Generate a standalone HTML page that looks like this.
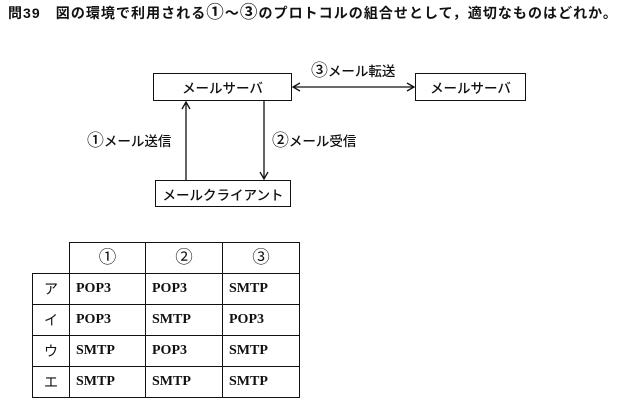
<!DOCTYPE html>
<html><head><meta charset="utf-8"><style>
body{margin:0;width:632px;height:400px;background:#fff;font-family:"Liberation Sans","Noto Sans CJK JP",sans-serif;color:#111;position:relative;overflow:hidden}
.t{position:absolute;white-space:nowrap}
.b{position:absolute;border:1.5px solid #111;box-sizing:border-box;display:flex;align-items:center;justify-content:center;font-size:13.5px;font-weight:500}
.n{font-size:1.25em;line-height:1}
table{position:absolute;left:32px;top:242px;border-collapse:collapse;font-size:14px}
td{border:1.5px solid #111;box-sizing:border-box;height:31px;padding:0 0 0 6px;font-family:"Liberation Serif","Noto Serif CJK SC",serif;font-weight:bold}
td.c{text-align:center;padding:0;font-family:"Liberation Sans","Noto Sans CJK JP",sans-serif;font-weight:normal}
</style></head><body>
<div class="t" style="left:8px;top:3px;font-size:14px;font-weight:bold;letter-spacing:1.05px">問39　図の環境で利用される<span class="n">①</span>～<span class="n">③</span>のプロトコルの組合せとして，適切なものはどれか。</div>
<div class="b" style="left:153px;top:73px;width:139px;height:28px">メールサーバ</div>
<div class="b" style="left:415px;top:73px;width:111px;height:28px">メールサーバ</div>
<div class="b" style="left:155px;top:180px;width:136px;height:27px">メールクライアント</div>
<div class="t" style="left:311px;top:60px;font-size:13.5px;font-weight:500"><span class="n">③</span>メール転送</div>
<div class="t" style="left:87px;top:130px;font-size:13.5px;font-weight:500"><span class="n">①</span>メール送信</div>
<div class="t" style="left:272px;top:130px;font-size:13.5px;font-weight:500"><span class="n">②</span>メール受信</div>
<svg style="position:absolute;left:0;top:0" width="632" height="400">
<g stroke="#111" stroke-width="1.3" fill="none">
<line x1="186" y1="180" x2="186" y2="102"/><polyline points="182,109 186,102 190,109"/>
<line x1="264" y1="101" x2="264" y2="179"/><polyline points="260,172 264,179 268,172"/>
<line x1="293" y1="87" x2="414" y2="87"/><polyline points="300,83 293,87 300,91"/><polyline points="407,83 414,87 407,91"/>
</g></svg>
<table>
<tr style="height:27px"><td style="border:none;border-right:1.5px solid #111;border-bottom:1.5px solid #111;width:37px"></td><td class="c" style="width:76px;height:27px"><span class="n">①</span></td><td class="c" style="width:77px"><span class="n">②</span></td><td class="c" style="width:77px"><span class="n">③</span></td></tr>
<tr><td class="c">ア</td><td>POP3</td><td>POP3</td><td>SMTP</td></tr>
<tr><td class="c">イ</td><td>POP3</td><td>SMTP</td><td>POP3</td></tr>
<tr><td class="c">ウ</td><td>SMTP</td><td>POP3</td><td>SMTP</td></tr>
<tr><td class="c">エ</td><td>SMTP</td><td>SMTP</td><td>SMTP</td></tr>
</table>
</body></html>
